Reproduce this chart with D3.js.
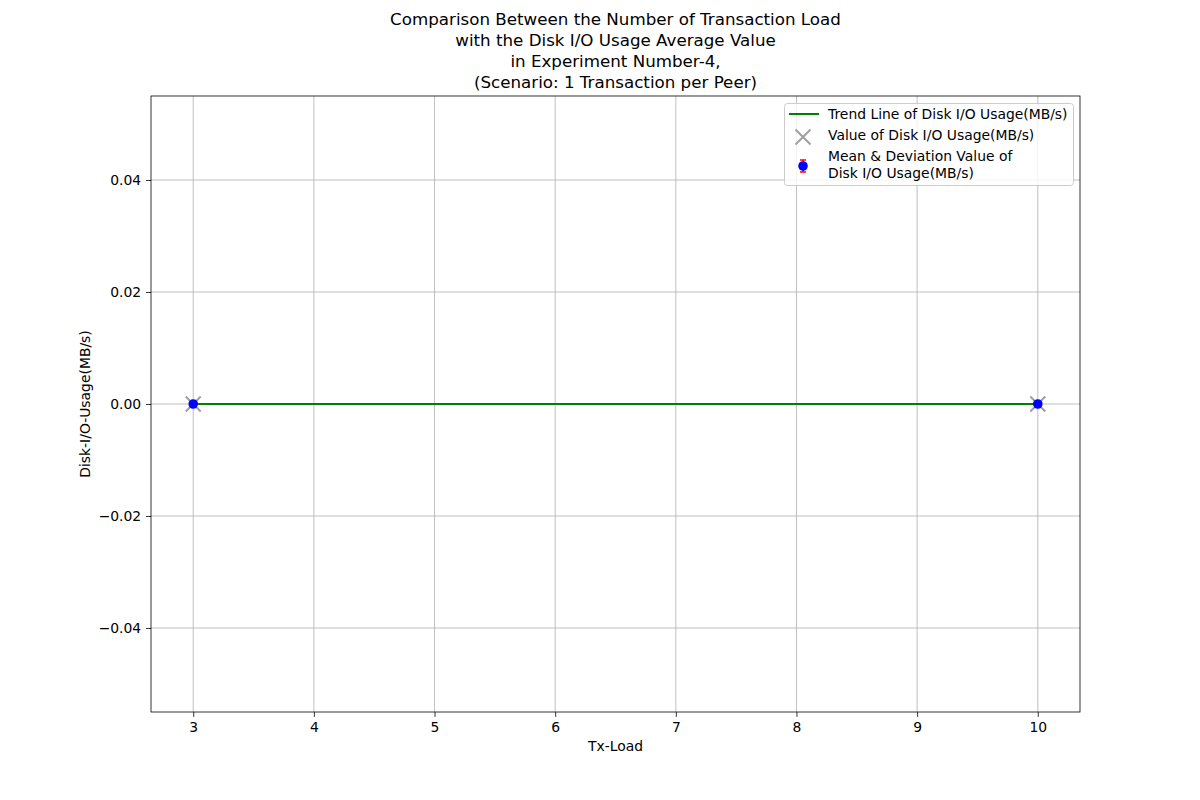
<!DOCTYPE html>
<html>
<head>
<meta charset="utf-8">
<script src="https://cdn.jsdelivr.net/npm/d3@7"></script>
<style>
  body { margin: 0; background: #fff; }
  text { font-family: "DejaVu Sans", sans-serif; fill: #000; }
</style>
</head>
<body>
<svg id="chart" width="1200" height="800"></svg>
<script>
// data
var txLoad = [3, 10];
var diskValues = [0, 0];
var meanValues = [0, 0];
var deviation = [0, 0];
var trendValues = [0, 0];
var xTicks = [3, 4, 5, 6, 7, 8, 9, 10];
var yTicks = [-0.04, -0.02, 0, 0.02, 0.04];
var titleLines = [
  'Comparison Between the Number of Transaction Load',
  'with the Disk I/O Usage Average Value',
  'in Experiment Number-4,',
  '(Scenario: 1 Transaction per Peer)'
];
var legendLabels = [
  ['Trend Line of Disk I/O Usage(MB/s)'],
  ['Value of Disk I/O Usage(MB/s)'],
  ['Mean & Deviation Value of', 'Disk I/O Usage(MB/s)']
];

var margin = { left: 151, top: 96, right: 1080, bottom: 712 };
var svg = d3.select('#chart');

var x = d3.scaleLinear().domain([2.65, 10.35]).range([margin.left, margin.right]);
var y = d3.scaleLinear().domain([-0.055, 0.055]).range([margin.bottom, margin.top]);

var fmtY = function (d) {
  var s = d3.format('.2f')(Math.abs(d));
  return (d < 0 ? '\u2212' : '') + s;
};

// grid
var grid = svg.append('g');
grid.selectAll('.gx').data(xTicks).enter().append('line')
  .attr('x1', x).attr('x2', x)
  .attr('y1', margin.top).attr('y2', margin.bottom)
  .attr('stroke', '#b0b0b0').attr('stroke-width', 0.8);
grid.selectAll('.gy').data(yTicks).enter().append('line')
  .attr('y1', y).attr('y2', y)
  .attr('x1', margin.left).attr('x2', margin.right)
  .attr('stroke', '#b0b0b0').attr('stroke-width', 0.8);

// axes
var xAxis = d3.axisBottom(x).tickValues(xTicks).tickSize(4.9).tickPadding(4.9).tickFormat(d3.format('d'));
var yAxis = d3.axisLeft(y).tickValues(yTicks).tickSize(4.9).tickPadding(4.9).tickFormat(fmtY);

var gx = svg.append('g').attr('transform', 'translate(0,' + margin.bottom + ')').call(xAxis);
var gy = svg.append('g').attr('transform', 'translate(' + margin.left + ',0)').call(yAxis);
[gx, gy].forEach(function (g) {
  g.select('.domain').remove();
  g.selectAll('.tick line').attr('stroke', '#000').attr('stroke-width', 0.8);
  g.selectAll('.tick text').style('font-family', '"DejaVu Sans", sans-serif').style('font-size', '13.9px').attr('fill', '#000');
});

// trend line
svg.append('path')
  .datum(txLoad.map(function (d, i) { return [d, trendValues[i]]; }))
  .attr('fill', 'none').attr('stroke', 'green').attr('stroke-width', 2)
  .attr('d', d3.line().x(function (d) { return x(d[0]); }).y(function (d) { return y(d[1]); }));

// X markers
function cross(g, cx, cy, r) {
  g.append('path')
    .attr('d', 'M' + (cx - r) + ',' + (cy - r) + 'L' + (cx + r) + ',' + (cy + r) +
      'M' + (cx - r) + ',' + (cy + r) + 'L' + (cx + r) + ',' + (cy - r))
    .attr('stroke', '#a0a0a0').attr('stroke-width', 2).attr('fill', 'none');
}
var marks = svg.append('g');
txLoad.forEach(function (d, i) { cross(marks, x(d), y(diskValues[i]), 7.5); });

// error bars + mean points
var eb = svg.append('g');
txLoad.forEach(function (d, i) {
  var cx = x(d);
  eb.append('line').attr('x1', cx).attr('x2', cx)
    .attr('y1', y(meanValues[i] - deviation[i])).attr('y2', y(meanValues[i] + deviation[i]))
    .attr('stroke', 'red').attr('stroke-width', 1.5);
});
eb.selectAll('circle').data(txLoad).enter().append('circle')
  .attr('cx', x).attr('cy', function (d, i) { return y(meanValues[i]); })
  .attr('r', 4.8).attr('fill', 'blue');

// frame
svg.append('rect')
  .attr('x', margin.left).attr('y', margin.top)
  .attr('width', margin.right - margin.left).attr('height', margin.bottom - margin.top)
  .attr('fill', 'none').attr('stroke', '#000').attr('stroke-width', 0.8);

// axis labels
svg.append('text').attr('x', (margin.left + margin.right) / 2).attr('y', 751)
  .attr('text-anchor', 'middle').style('font-size', '13.9px').text('Tx-Load');
svg.append('text')
  .attr('transform', 'translate(90,' + ((margin.top + margin.bottom) / 2) + ') rotate(-90)')
  .attr('text-anchor', 'middle').style('font-size', '13.9px').text('Disk-I/O-Usage(MB/s)');

// title
svg.append('g').selectAll('text').data(titleLines).enter().append('text')
  .attr('x', (margin.left + margin.right) / 2)
  .attr('y', function (d, i) { return 25 + i * 21; })
  .attr('text-anchor', 'middle').style('font-size', '16.7px').text(function (d) { return d; });

// legend
var lg = svg.append('g');
lg.append('rect').attr('x', 784.5).attr('y', 103.5).attr('width', 289).attr('height', 82).attr('rx', 3)
  .attr('fill', 'rgba(255,255,255,0.8)').attr('stroke', '#ccc').attr('stroke-width', 1);
lg.append('line').attr('x1', 789).attr('x2', 819).attr('y1', 114).attr('y2', 114)
  .attr('stroke', 'green').attr('stroke-width', 2);
cross(lg, 803, 137, 7.5);
lg.append('line').attr('x1', 803).attr('x2', 803).attr('y1', 160).attr('y2', 172)
  .attr('stroke', 'red').attr('stroke-width', 1.5);
lg.append('line').attr('x1', 800).attr('x2', 806).attr('y1', 160).attr('y2', 160)
  .attr('stroke', 'red').attr('stroke-width', 1.5);
lg.append('line').attr('x1', 800).attr('x2', 806).attr('y1', 172).attr('y2', 172)
  .attr('stroke', 'red').attr('stroke-width', 1.5);
lg.append('circle').attr('cx', 803).attr('cy', 166).attr('r', 4.8).attr('fill', 'blue');

var legendY = [119, 140];
legendLabels.forEach(function (lines, i) {
  lines.forEach(function (t, j) {
    lg.append('text').attr('x', 828).attr('y', i < 2 ? legendY[i] : 161 + j * 17)
      .style('font-size', '13.9px').text(t);
  });
});
</script>
</body>
</html>
